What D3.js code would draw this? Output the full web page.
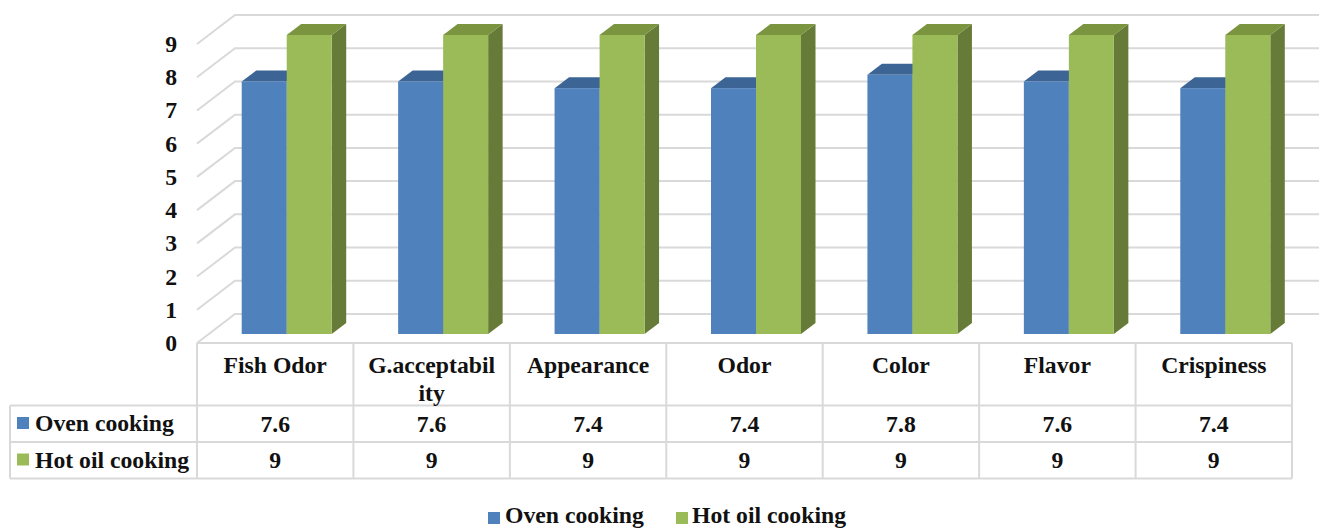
<!DOCTYPE html>
<html>
<head>
<meta charset="utf-8">
<script src="https://cdnjs.cloudflare.com/ajax/libs/d3/7.8.5/d3.min.js"></script>
<style>
html,body{margin:0;padding:0;background:#fff;overflow:hidden}
text{font-family:"Liberation Serif",serif;font-weight:bold;fill:#111}
</style>
</head>
<body>
<svg id="chart" width="1319" height="528"></svg>
<script>
// Sensory scores by attribute and cooking method
const categories = ["Fish Odor","G.acceptability","Appearance","Odor","Color","Flavor","Crispiness"];
const categoryLines = [["Fish Odor"],["G.acceptabil","ity"],["Appearance"],["Odor"],["Color"],["Flavor"],["Crispiness"]];
const ovenCooking = [7.6,7.6,7.4,7.4,7.8,7.6,7.4];
const hotOilCooking = [9,9,9,9,9,9,9];
const seriesNames = ["Oven cooking","Hot oil cooking"];
const yTicks = [0,1,2,3,4,5,6,7,8,9];

const seriesList = [
  {name: seriesNames[0], values: ovenCooking, front:"#4f81bd", top:"#3c6494", side:"#3a5f8c"},
  {name: seriesNames[1], values: hotOilCooking, front:"#9bbb59", top:"#7a9440", side:"#667b37"}
];

const svg = d3.select("#chart");
const gridColor = "#d9d9d9";
const fontSize = 23.7;

// Oblique projection: wall, bar plane and front plane are offset copies of one axis
const left = 197, right = 1292, floorY = 343, topY = 44;
const wallDx = 38, wallDy = -29, barDx = 11.5, barDy = -9, depthDx = 14.5, depthDy = -11;

const y = d3.scaleLinear().domain([0,9]).range([floorY, topY]);
const x = d3.scaleBand().domain(categories).range([left, right]);
const xInner = d3.scaleBand().domain(seriesNames).range([0, 90]);
const groupPad = (x.bandwidth() - xInner.range()[1]) / 2;

// Back wall and side wall gridlines
const grid = svg.append("g").attr("stroke", gridColor).attr("stroke-width", 2).attr("fill","none");
grid.selectAll("path").data(yTicks).join("path")
  .attr("d", t => `M${left},${y(t)}L${left+wallDx},${y(t)+wallDy}L1319,${y(t)+wallDy}`);

// Bars: oven first so the hot-oil bar overlaps its side face
const bars = svg.append("g");
seriesList.forEach(s => {
  const g = bars.append("g");
  categories.forEach((c, i) => {
    const x0 = x(c) + groupPad + barDx + xInner(s.name);
    const x1 = x0 + xInner.bandwidth();
    const yt = y(s.values[i]) + barDy;
    const yb = y(0) + barDy;
    g.append("path").attr("fill", s.side)
      .attr("d", `M${x1},${yt}L${x1+depthDx},${yt+depthDy}L${x1+depthDx},${yb+depthDy}L${x1},${yb}Z`);
    g.append("path").attr("fill", s.top)
      .attr("d", `M${x0},${yt}L${x0+depthDx},${yt+depthDy}L${x1+depthDx},${yt+depthDy}L${x1},${yt}Z`);
    g.append("rect").attr("fill", s.front)
      .attr("x", x0).attr("y", yt).attr("width", x1-x0).attr("height", yb-yt);
  });
});

// Value axis labels
svg.append("g").selectAll("text").data(yTicks).join("text")
  .attr("x", 177).attr("y", t => y(t)+8)
  .attr("text-anchor","end").attr("font-size",fontSize)
  .text(d => d);

// Data table
const rowY = [floorY, 405.5, 442, 478.5];
const tableLeft = 10;
const table = svg.append("g").attr("stroke", gridColor).attr("stroke-width", 2).attr("fill","none");
[...categories.map(c => x(c)), right].forEach(px => {
  table.append("line").attr("x1",px).attr("x2",px).attr("y1",rowY[0]).attr("y2",rowY[3]);
});
table.append("line").attr("x1",left).attr("x2",right).attr("y1",rowY[0]).attr("y2",rowY[0]);
rowY.slice(1).forEach(py => {
  table.append("line").attr("x1",tableLeft).attr("x2",right).attr("y1",py).attr("y2",py);
});
table.append("line").attr("x1",tableLeft).attr("x2",tableLeft).attr("y1",rowY[1]).attr("y2",rowY[3]);

const cell = svg.append("g").attr("font-size",fontSize);
categories.forEach((c, i) => {
  const cx = x(c) + x.bandwidth()/2;
  categoryLines[i].forEach((line, k) => {
    cell.append("text").attr("x",cx).attr("y",372.5+k*28).attr("text-anchor","middle").text(line);
  });
  seriesList.forEach((s, r) => {
    cell.append("text").attr("x",cx).attr("y",rowY[r+1]+26).attr("text-anchor","middle")
      .text(s.values[i]);
  });
});
seriesList.forEach((s, r) => {
  cell.append("rect").attr("x",17).attr("y",rowY[r+1]+11.5).attr("width",12).attr("height",12).attr("fill",s.front);
  cell.append("text").attr("x",35).attr("y",rowY[r+1]+25.5).text(s.name);
});

// Legend under the table
const legendX = [488, 676];
const legend = svg.append("g").attr("font-size",fontSize);
seriesList.forEach((s, r) => {
  legend.append("rect").attr("x",legendX[r]).attr("y",512).attr("width",12).attr("height",12).attr("fill",s.front);
  legend.append("text").attr("x",legendX[r]+(r?16:17)).attr("y",522.5).text(s.name);
});
</script>
</body>
</html>
